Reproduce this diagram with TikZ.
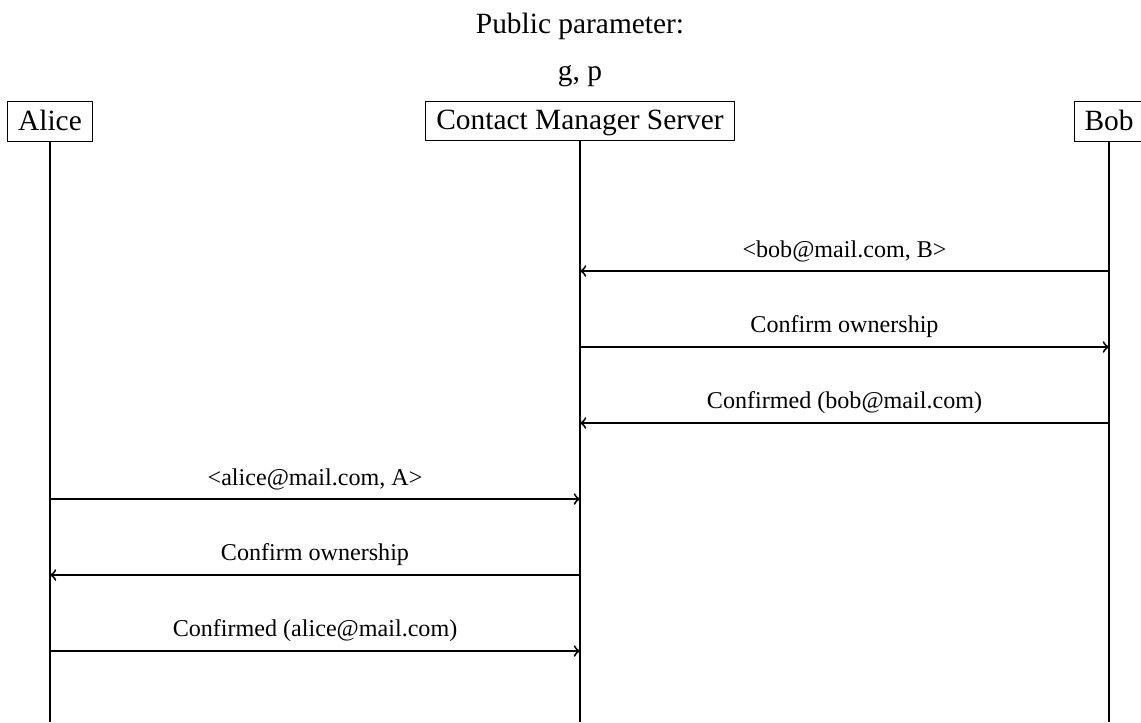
\documentclass[tikz,border=0pt]{standalone}
\usepackage{fontspec}
\setmainfont{Liberation Serif}
\begin{document}
\begin{tikzpicture}[x=0.415pt,y=-0.415pt,
  headfont/.style={font=\fontsize{12.2}{14.5}\selectfont},
  actor/.style={draw,line width=0.4pt,headfont,inner xsep=4.3pt,inner ysep=3.4pt,text depth=1.5pt,anchor=north},
  life/.style={line width=0.8pt},
  msg/.style={line width=0.8pt,->},
  lbl/.style={font=\fontsize{10}{12}\selectfont,above}]
\useasboundingbox (0,0) rectangle (1141,722);

% public parameters
\node[headfont,anchor=base] (title) at (580,33) {Public parameter:};
\node[headfont,anchor=base] (params) at (580,80) {g, p};

% participants
\node[actor] (alice) at (50,101) {Alice};
\node[actor] (cms) at (580,101) {Contact Manager Server};
\node[actor] (bob) at (1109,101) {Bob};

% lifeline ends
\coordinate (aliceEnd) at (50,722);
\coordinate (cmsEnd) at (580,722);
\coordinate (bobEnd) at (1109,722);
\draw[life] (alice.south) -- (aliceEnd);
\draw[life] (cms.south) -- (cmsEnd);
\draw[life] (bob.south) -- (bobEnd);

% message anchor points on the lifelines
\foreach \i/\y in {1/271,2/347,3/423,4/499,5/575,6/651} {
  \coordinate (a\i) at (50,\y);
  \coordinate (c\i) at (580,\y);
  \coordinate (b\i) at (1109,\y);
}

% messages
\draw[msg] (b1) -- node[lbl] {<bob@mail.com, B>} (c1);
\draw[msg] (c2) -- node[lbl] {Confirm ownership} (b2);
\draw[msg] (b3) -- node[lbl] {Confirmed (bob@mail.com)} (c3);
\draw[msg] (a4) -- node[lbl] {<alice@mail.com, A>} (c4);
\draw[msg] (c5) -- node[lbl] {Confirm ownership} (a5);
\draw[msg] (a6) -- node[lbl] {Confirmed (alice@mail.com)} (c6);
\end{tikzpicture}
\end{document}
